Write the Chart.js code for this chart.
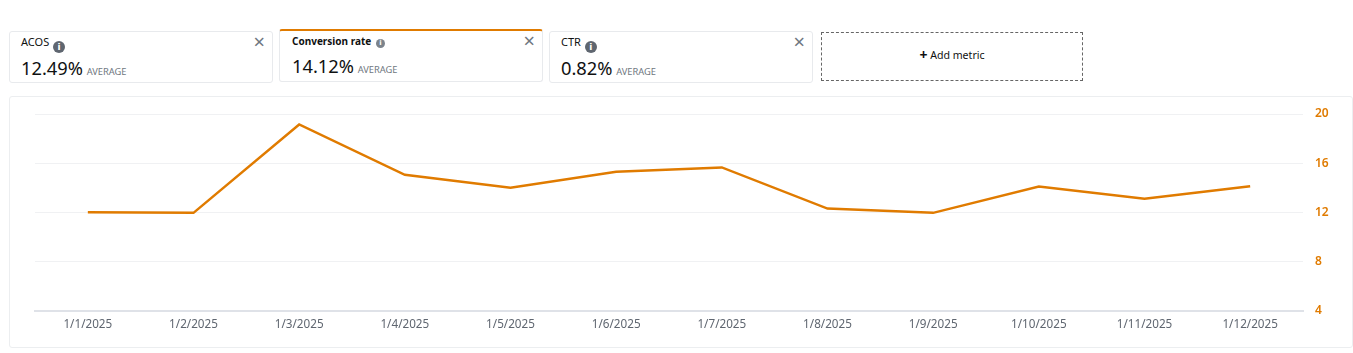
<!DOCTYPE html>
<html>
<head>
<meta charset="utf-8">
<script src="https://cdn.jsdelivr.net/npm/chart.js@4"></script>
<style>
  html, body { margin: 0; padding: 0; background: #fff; overflow: hidden; }
  body { width: 1353px; height: 353px; position: relative; font-family: "Noto Sans", sans-serif; color: #0f1111; }
  .card { position: absolute; box-sizing: border-box; border: 1px solid #e8eaed; border-radius: 3px; background: #fff; }
  .card .name { position: absolute; left: 11px; top: 2px; font-size: 11px; line-height: 16px; white-space: nowrap; }
  .card .val { position: absolute; left: 11px; top: 24px; font-size: 18.3px; line-height: 24px; white-space: nowrap; }
  .card .avg { font-size: 9.3px; color: #6f7780; margin-left: -1px; }
  .card .close { position: absolute; right: 7px; top: 0; font-size: 20px; line-height: 20px; color: #6f7780; }
  .info { display: inline-block; width: 12px; height: 12px; border-radius: 50%; background: #5f6670; color: #fff; font: bold 9px/12px "DejaVu Sans", sans-serif; text-align: center; margin-left: 1px; vertical-align: -4px; }
  .active { border-top: 2px solid #e07b00; }
  .active .name { font-weight: 700; font-size: 10px; left: 12px; top: 2px; }
  .active .val { left: 12px; top: 23px; }
  .active .info { width: 9px; height: 9px; font-size: 7px; line-height: 9px; background: #7b838c; vertical-align: 0; margin-left: 2px; }
  .add { position: absolute; left: 821px; top: 32px; width: 262px; height: 49px; box-sizing: border-box; border: 1px dashed #666; text-align: center; font-size: 10.6px; line-height: 44px; }
  .add b { font-size: 14px; vertical-align: -1px; }
  #panel { position: absolute; left: 9px; top: 96px; width: 1344px; height: 252px; box-sizing: border-box; border: 1px solid #eceef0; border-radius: 3px; }
  #wrap { position: absolute; left: 0; top: 0; width: 1342px; height: 250px; }
</style>
</head>
<body>
  <div class="card" style="left:9px;top:31px;width:264px;height:52px"><div class="name">ACOS <span class="info">i</span></div><div class="val">12.49% <span class="avg">AVERAGE</span></div><div class="close">×</div></div>
  <div class="card active" style="left:279px;top:29px;width:264px;height:53px"><div class="name">Conversion rate <span class="info">i</span></div><div class="val">14.12% <span class="avg">AVERAGE</span></div><div class="close">×</div></div>
  <div class="card" style="left:549px;top:31px;width:264px;height:52px"><div class="name">CTR <span class="info">i</span></div><div class="val">0.82% <span class="avg">AVERAGE</span></div><div class="close">×</div></div>
  <div class="add"><b>+</b> Add metric</div>
  <div id="panel"><div id="wrap"><canvas id="chart"></canvas></div></div>

<script>
const dates = ["1/1/2025", "1/2/2025", "1/3/2025", "1/4/2025", "1/5/2025", "1/6/2025", "1/7/2025", "1/8/2025", "1/9/2025", "1/10/2025", "1/11/2025", "1/12/2025"]
const conversionRate = [12.0, 11.95, 19.15, 15.05, 14.0, 15.3, 15.65, 12.3, 11.95, 14.1, 13.1, 14.12]
const yTicks = [4, 8, 12, 16, 20]

const orange = "#e07b00"
const gridColor = "#f0f1f3"
const axisColor = "#dfe2e8"
const labelColor = "#5f6670"

new Chart(document.getElementById("chart"), {
  type: "line",
  data: {
    labels: dates,
    datasets: [{
      label: "Conversion rate",
      data: conversionRate,
      borderColor: orange,
      borderWidth: 2.5,
      pointRadius: 0,
      tension: 0,
      yAxisID: "y"
    }]
  },
  options: {
    responsive: true,
    maintainAspectRatio: false,
    animation: false,
    layout: { padding: { left: 25, top: 17, right: 0, bottom: 0 } },
    plugins: {
      legend: { display: false },
      tooltip: { enabled: false }
    },
    scales: {
      x: {
        offset: true,
        grid: { display: false, drawTicks: false },
        border: { color: axisColor, width: 2 },
        ticks: { color: labelColor, font: { family: "Noto Sans", size: 11.7 }, padding: 7, maxRotation: 0, autoSkip: false },
        afterFit: (scale) => { scale.height = 36.5 }
      },
      y: {
        position: "right",
        min: 4,
        max: 20,
        afterBuildTicks: (scale) => { scale.ticks = yTicks.map(v => ({ value: v })) },
        // the gap before the labels comes from an invisible tick, tick padding would push the plot top down
        grid: { color: gridColor, drawTicks: true, tickLength: 12, tickColor: "transparent", lineWidth: 1 },
        border: { display: false },
        ticks: { color: orange, font: { family: "Noto Sans", size: 12, weight: "600" }, padding: 0 },
        afterFit: (scale) => { scale.width = 49 }
      }
    }
  }
})
</script>
</body>
</html>
